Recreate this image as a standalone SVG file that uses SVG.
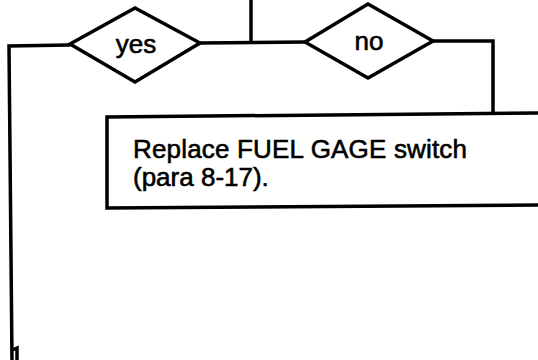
<svg xmlns="http://www.w3.org/2000/svg" width="538" height="360" viewBox="0 0 538 360">
<style>
.s{fill:none;stroke:#000;stroke-width:3.5;stroke-linejoin:miter}
.n{fill:#fff;stroke:#000;stroke-width:3.5}
.t{font-family:"Liberation Sans",Arial,sans-serif;font-size:26px;fill:#000;stroke:#000;stroke-width:0.6}
</style>
<rect width="538" height="360" fill="#fff"/>
<g id="connectors">
<polyline class="s" points="251,0 251,43"/>
<polyline class="s" points="70,45 9,46 12,360"/>
<polyline class="s" points="200,43 305,42"/>
<polyline class="s" points="433,41 493,41 493,114"/>
<path class="s" d="M12,350 L17,348 L17,360" stroke-width="2.5"/>
</g>
<g id="yes">
<polygon class="n" points="70,44 135,8 200,43 135,82"/>
<text class="t" x="136" y="53" text-anchor="middle">yes</text>
</g>
<g id="no">
<polygon class="n" points="305,42 368,4 433,41 368,78"/>
<text class="t" x="369" y="50" text-anchor="middle">no</text>
</g>
<g id="replace">
<polyline class="s" points="538,113 107,117 107,208 538,205"/>
<text class="t" x="133" y="158" textLength="334">Replace FUEL GAGE switch</text>
<text class="t" x="133" y="186">(para 8-17).</text>
</g>
</svg>
